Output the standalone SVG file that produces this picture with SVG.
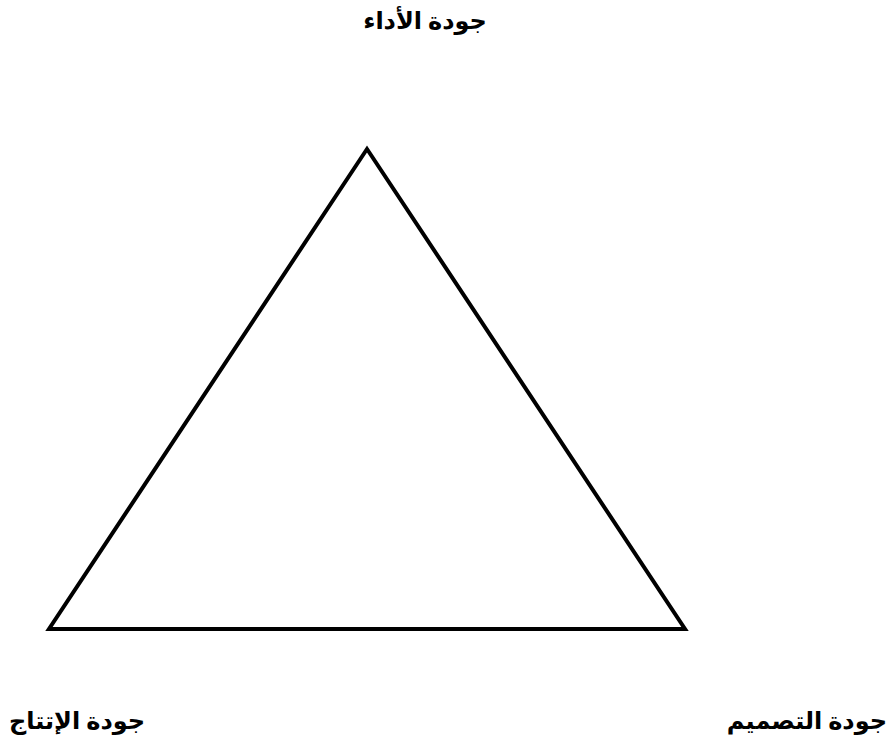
<svg xmlns="http://www.w3.org/2000/svg" width="891" height="751" viewBox="0 0 891 751">
<style>
.lbl{font-family:"Liberation Serif","DejaVu Sans",serif;font-weight:bold;font-size:24px;fill:#000;direction:rtl;unicode-bidi:embed}
.tri{fill:#fff;stroke:#000;stroke-width:4;stroke-linejoin:miter}
</style>
<rect width="891" height="751" fill="#fff"/>
<g id="triangle">
<polygon class="tri" points="367,149 685,629 49,629"/>
</g>
<g id="connectors"></g>
<g id="node-top"><text class="lbl" x="425" y="29" text-anchor="middle">جودة الأداء</text></g>
<g id="node-left"><text class="lbl" x="9" y="729" text-anchor="end">جودة الإتتاج</text></g>
<g id="node-right"><text class="lbl" x="887" y="729" text-anchor="start">جودة التصميم</text></g>
</svg>
